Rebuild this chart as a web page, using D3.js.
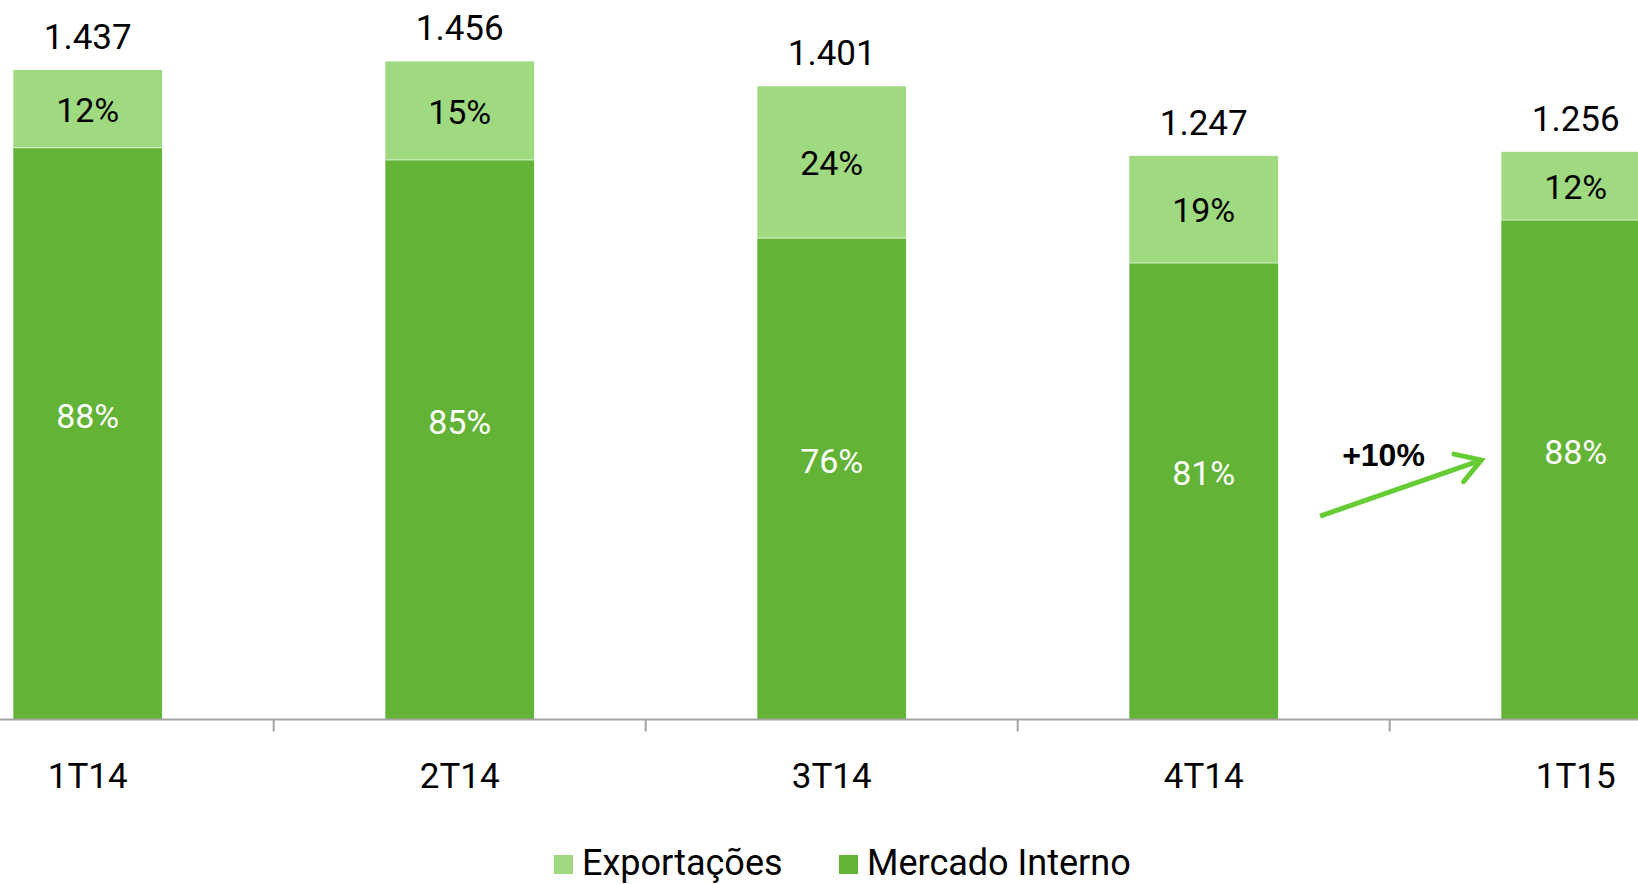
<!DOCTYPE html>
<html>
<head>
<meta charset="utf-8">
<script src="https://cdn.jsdelivr.net/npm/d3@7"></script>
<style>
  html, body { margin: 0; padding: 0; background: #ffffff; }
  svg { display: block; }
</style>
</head>
<body>
<svg id="chart" width="1638" height="884"></svg>
<script>
// ---- Data ----
const categories   = ["1T14", "2T14", "3T14", "4T14", "1T15"];
const exportacoes  = [172, 218, 336, 237, 151];
const mercado      = [1265, 1238, 1065, 1010, 1105];
const totalLabels  = ["1.437", "1.456", "1.401", "1.247", "1.256"];
const pctExport    = ["12%", "15%", "24%", "19%", "12%"];
const pctMercado   = ["88%", "85%", "76%", "81%", "88%"];
const seriesNames  = ["Exportações", "Mercado Interno"];
const growthLabel  = "+10%";

// ---- Styles ----
const colLight = "#a0da80";
const colDark  = "#62b336";
const colArrow = "#66cc33";
const font = "Roboto, 'Liberation Sans', sans-serif";

const svg = d3.select("#chart");

const x = d3.scaleBand()
  .domain(categories)
  .range([-98.3, 1761.7])
  .paddingInner(0.6)
  .paddingOuter(0.3);

const y = d3.scaleLinear()
  .domain([0, 1600])
  .range([719.5, 719.5 - 1600 * 0.452]);

const rows = categories.map((c, i) => ({
  cat: c, mi: mercado[i], ex: exportacoes[i],
  total: totalLabels[i], pe: pctExport[i], pm: pctMercado[i]
}));

const g = svg.append("g");

// Mercado Interno (bottom)
g.selectAll("rect.mi").data(rows).join("rect")
  .attr("class", "mi")
  .attr("x", d => x(d.cat))
  .attr("width", x.bandwidth())
  .attr("y", d => y(d.mi))
  .attr("height", d => y(0) - y(d.mi))
  .attr("fill", colDark);

// Exportações (top)
g.selectAll("rect.ex").data(rows).join("rect")
  .attr("class", "ex")
  .attr("x", d => x(d.cat))
  .attr("width", x.bandwidth())
  .attr("y", d => y(d.mi + d.ex))
  .attr("height", d => y(d.mi) - y(d.mi + d.ex))
  .attr("fill", colLight);

// thin separators between segments
g.selectAll("line.sep").data(rows).join("line")
  .attr("x1", d => x(d.cat))
  .attr("x2", d => x(d.cat) + x.bandwidth())
  .attr("y1", d => y(d.mi))
  .attr("y2", d => y(d.mi))
  .attr("stroke", "#d8f0c8")
  .attr("stroke-width", 1);

// Axis
const axisG = svg.append("g").attr("transform", `translate(0,${y(0)})`);
axisG.append("line")
  .attr("x1", 0).attr("x2", 1638)
  .attr("stroke", "#a3a3a3").attr("stroke-width", 2);
// boundary ticks between categories
axisG.selectAll("line.tk").data(categories.slice(1)).join("line")
  .attr("class", "tk")
  .attr("x1", d => x(d) - x.step() * x.paddingInner() / 2)
  .attr("x2", d => x(d) - x.step() * x.paddingInner() / 2)
  .attr("y1", 0).attr("y2", 12)
  .attr("stroke", "#a3a3a3").attr("stroke-width", 2);

// Category labels
svg.append("g").selectAll("text").data(categories).join("text")
  .attr("x", d => x(d) + x.bandwidth() / 2)
  .attr("y", 788)
  .attr("text-anchor", "middle")
  .attr("font-family", font)
  .attr("font-size", 35)
  .attr("fill", "#000")
  .text(d => d);

// Total labels
svg.append("g").selectAll("text").data(rows).join("text")
  .attr("x", d => x(d.cat) + x.bandwidth() / 2)
  .attr("y", d => y(d.mi + d.ex) - 21)
  .attr("text-anchor", "middle")
  .attr("font-family", font)
  .attr("font-size", 35)
  .attr("fill", "#000")
  .text(d => d.total);

// Export % labels
svg.append("g").selectAll("text").data(rows).join("text")
  .attr("x", d => x(d.cat) + x.bandwidth() / 2)
  .attr("y", d => (y(d.mi + d.ex) + y(d.mi)) / 2 + 13)
  .attr("text-anchor", "middle")
  .attr("font-family", font)
  .attr("font-size", 34)
  .attr("fill", "#000")
  .text(d => d.pe);

// Mercado % labels
svg.append("g").selectAll("text").data(rows).join("text")
  .attr("x", d => x(d.cat) + x.bandwidth() / 2)
  .attr("y", d => (y(d.mi) + y(0)) / 2 - 6)
  .attr("text-anchor", "middle")
  .attr("font-family", font)
  .attr("font-size", 34)
  .attr("fill", "#ffffff")
  .text(d => d.pm);

// Growth arrow between 4T14 and 1T15
const xa = x("4T14") + x.bandwidth() + 42;
const xb = x("1T15") - 20;
const ya = y(450);
const yb = y(574);
const ang = Math.atan2(yb - ya, xb - xa);
const hl = 28, spread = 0.55;
svg.append("line")
  .attr("x1", xa).attr("y1", ya).attr("x2", xb).attr("y2", yb)
  .attr("stroke", colArrow).attr("stroke-width", 5).attr("stroke-linecap", "butt");
svg.append("path")
  .attr("d", `M${xb - hl * Math.cos(ang - spread)},${yb - hl * Math.sin(ang - spread)} L${xb},${yb} L${xb - hl * Math.cos(ang + spread)},${yb - hl * Math.sin(ang + spread)}`)
  .attr("fill", "none").attr("stroke", colArrow).attr("stroke-width", 5)
  .attr("stroke-linecap", "round").attr("stroke-linejoin", "miter");
svg.append("text")
  .attr("x", 1383.5).attr("y", 465.5)
  .attr("text-anchor", "middle")
  .attr("font-family", "'Liberation Sans', Arial, sans-serif")
  .attr("font-weight", "bold")
  .attr("font-size", 32)
  .attr("fill", "#000")
  .text(growthLabel);

// Legend
const legend = svg.append("g");
const legItems = [
  { name: seriesNames[0], color: colLight, x: 554 },
  { name: seriesNames[1], color: colDark, x: 839 }
];
legItems.forEach(it => {
  legend.append("rect")
    .attr("x", it.x).attr("y", 855).attr("width", 19).attr("height", 19)
    .attr("fill", it.color);
  legend.append("text")
    .attr("x", it.x + 28).attr("y", 875)
    .attr("font-family", font).attr("font-size", 36).attr("fill", "#000")
    .text(it.name);
});
</script>
</body>
</html>
